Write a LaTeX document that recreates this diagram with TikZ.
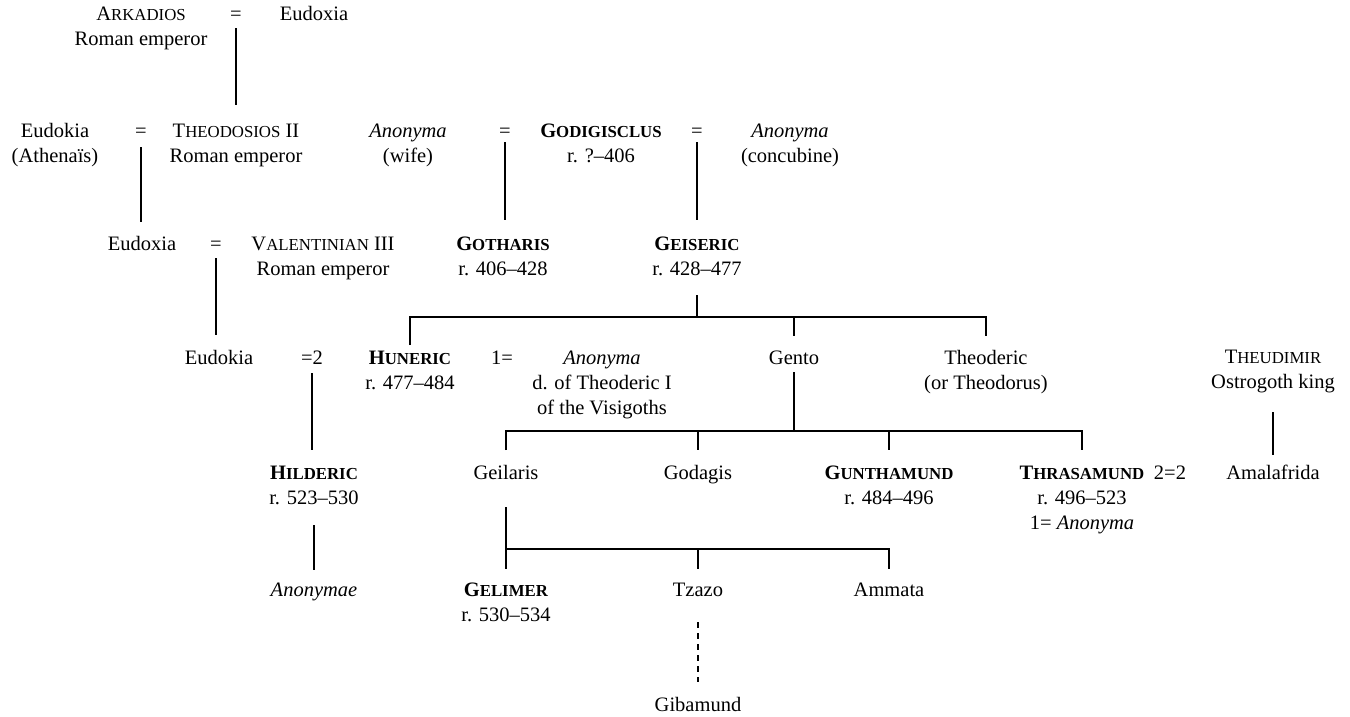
\documentclass[tikz,border=0pt]{standalone}
\usepackage{fontspec}
\setmainfont{Liberation Serif}
\usetikzlibrary{calc}
\newcommand\stk[1]{\begin{tabular}[t]{@{}c@{}}#1\end{tabular}}
\newcommand\capsm[2]{#1{\fontsize{16.8}{16.8}\selectfont #2}}
\tikzset{
  p/.style={anchor=base, inner sep=0pt, font=\fontsize{20.5}{25}\selectfont},
  rel/.style={line width=2pt},
  reldash/.style={line width=2pt, dash pattern=on 6pt off 5pt}
}
\begin{document}
\begin{tikzpicture}[x=1pt,y=-1pt]
\useasboundingbox (0,0) rectangle (1350,716);
% row 1
\node[p] (ark) at (141,20) {\stk{\capsm{A}{RKADIOS}\\Roman emperor}};
\node[p] (eq1) at (236,20) {=};
\node[p] (eudoxiaA) at (314,20) {Eudoxia};
% row 2
\node[p] (eudokiaA) at (55,137) {\stk{Eudokia\\(Athenaïs)}};
\node[p] (eq2) at (141,137) {=};
\node[p] (theo) at (236,137) {\stk{\capsm{T}{HEODOSIOS} II\\Roman emperor}};
\node[p] (anw) at (408,137) {\stk{\textit{Anonyma}\\(wife)}};
\node[p] (eq3) at (505,137) {=};
\node[p] (godi) at (601,137) {\stk{\textbf{\capsm{G}{ODIGISCLUS}}\\r. ?–406}};
\node[p] (eq4) at (697,137) {=};
\node[p] (anc) at (790,137) {\stk{\textit{Anonyma}\\(concubine)}};
% row 3
\node[p] (eudoxiaB) at (142,250) {Eudoxia};
\node[p] (eq5) at (216,250) {=};
\node[p] (valen) at (323,250) {\stk{\capsm{V}{ALENTINIAN} III\\Roman emperor}};
\node[p] (goth) at (503,250) {\stk{\textbf{\capsm{G}{OTHARIS}}\\r. 406–428}};
\node[p] (geis) at (697,250) {\stk{\textbf{\capsm{G}{EISERIC}}\\r. 428–477}};
% row 4
\node[p] (eudokiaB) at (219,364) {Eudokia};
\node[p] (eq6) at (312,364) {=2};
\node[p] (hun) at (410,364) {\stk{\textbf{\capsm{H}{UNERIC}}\\r. 477–484}};
\node[p] (eq7) at (502,364) {1=};
\node[p] (anv) at (602,364) {\stk{\textit{Anonyma}\\d. of Theoderic I\\of the Visigoths}};
\node[p] (gento) at (794,364) {Gento};
\node[p] (theod) at (986,364) {\stk{Theoderic\\(or Theodorus)}};
\node[p] (theud) at (1273,363) {\stk{\capsm{T}{HEUDIMIR}\\Ostrogoth king}};
% row 5
\node[p] (hild) at (314,479) {\stk{\textbf{\capsm{H}{ILDERIC}}\\r. 523–530}};
\node[p] (geil) at (506,479) {Geilaris};
\node[p] (goda) at (698,479) {Godagis};
\node[p] (gunt) at (889,479) {\stk{\textbf{\capsm{G}{UNTHAMUND}}\\r. 484–496}};
\node[p] (thra) at (1082,479) {\stk{\textbf{\capsm{T}{HRASAMUND}}\\r. 496–523\\1= \textit{Anonyma}}};
\node[p] (eq8) at (1170,479) {2=2};
\node[p] (amal) at (1273,479) {Amalafrida};
% row 6
\node[p] (anys) at (314,596) {\textit{Anonymae}};
\node[p] (geli) at (506,596) {\stk{\textbf{\capsm{G}{ELIMER}}\\r. 530–534}};
\node[p] (tzazo) at (698,596) {Tzazo};
\node[p] (amma) at (889,596) {Ammata};
\node[p] (giba) at (698,711) {Gibamund};

% connectors
\draw[rel] ($(eq1.base)+(0,8)$) -- ($(eq1.base |- theo.base)+(0,-32)$);
\draw[rel] ($(eq2.base)+(0,10)$) -- ($(eq2.base |- eudoxiaB.base)+(0,-28)$);
\draw[rel] ($(eq3.base)+(0,5)$) -- ($(eq3.base |- goth.base)+(0,-30)$);
\draw[rel] ($(eq4.base)+(0,5)$) -- ($(eq4.base |- geis.base)+(0,-30)$);
\draw[rel] ($(eq5.base)+(0,8)$) -- ($(eq5.base |- eudokiaB.base)+(0,-29)$);
% Geiseric's children
\coordinate (gJ) at ($(geis.base)+(0,67)$);
\draw[rel] ($(geis.base)+(0,45)$) -- (gJ);
\draw[rel] ($(gJ -| hun.base)+(0,28)$) -- (gJ -| hun.base) -- (gJ -| theod.base) -- ($(gJ -| theod.base)+(0,19)$);
\draw[rel] (gJ -| gento.base) -- ($(gento.base)+(0,-28)$);
% Eudokia =2 Huneric
\draw[rel] ($(eq6.base)+(0,9)$) -- ($(eq6.base |- hild.base)+(0,-29)$);
% Gento's children
\coordinate (nJ) at ($(gento.base)+(0,67)$);
\draw[rel] ($(gento.base)+(0,8)$) -- (nJ);
\draw[rel] ($(nJ -| geil.base)+(0,19)$) -- (nJ -| geil.base) -- (nJ -| thra.base) -- ($(nJ -| thra.base)+(0,19)$);
\draw[rel] (nJ -| goda.base) -- ($(goda.base)+(0,-29)$);
\draw[rel] (nJ -| gunt.base) -- ($(gunt.base)+(0,-29)$);
% Theudimir
\draw[rel] ($(theud.base)+(0,49)$) -- ($(theud.base |- amal.base)+(0,-24)$);
% Hilderic
\draw[rel] ($(hild.base)+(0,46)$) -- ($(hild.base |- anys.base)+(0,-26)$);
% Geilaris' children
\coordinate (lJ) at ($(geil.base)+(0,70)$);
\draw[rel] ($(geil.base)+(0,28)$) -- (lJ) -- (lJ -| amma.base) -- ($(lJ -| amma.base)+(0,20)$);
\draw[rel] (lJ) -- ($(geli.base)+(0,-27)$);
\draw[rel] (lJ -| tzazo.base) -- ($(tzazo.base)+(0,-27)$);
% Tzazo to Gibamund
\draw[reldash] ($(tzazo.base)+(0,26)$) -- ($(tzazo.base |- giba.base)+(0,-29)$);
\end{tikzpicture}
\end{document}
